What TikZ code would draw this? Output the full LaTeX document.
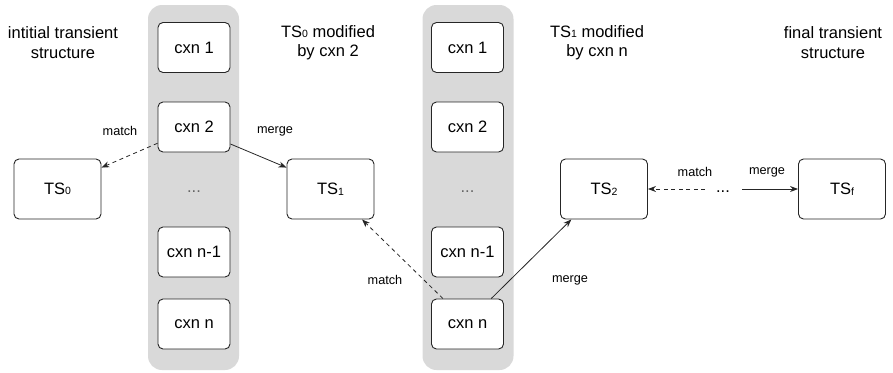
\documentclass[tikz,border=0pt]{standalone}
\usepackage{fontspec}
\setmainfont{Liberation Sans}
\usetikzlibrary{arrows.meta}
\begin{document}
\begin{tikzpicture}[x=1pt,y=-1pt,
  colbg/.style={fill=black!15, draw=none, rounded corners=14pt, minimum width=91pt, minimum height=365pt, inner sep=0},
  cxnbox/.style={draw=black!85, fill=white, rounded corners=5pt, line width=0.9pt, minimum width=72pt, minimum height=50pt, inner sep=0, font=\fontsize{16.5}{19}\selectfont},
  tsbox/.style={draw=black!85, fill=white, rounded corners=5pt, line width=0.9pt, minimum width=87pt, minimum height=60pt, inner sep=0, font=\fontsize{16.5}{19}\selectfont},
  title/.style={align=center, font=\fontsize{16.5}{19.5}\selectfont, inner sep=0},
  lbl/.style={font=\fontsize{12.7}{14}\selectfont, inner sep=0},
  dotsnode/.style={font=\fontsize{16.5}{19}\selectfont, inner sep=0},
  conn/.style={line width=0.8pt, draw=black!85, -{Stealth[length=8pt,width=6pt]}},
  dconn/.style={conn, dash pattern=on 4pt off 3.5pt},
]
\useasboundingbox (0,0) rectangle (893,372);
\newcommand{\subd}[1]{\raisebox{-0.5pt}{\fontsize{10.5}{10.5}\selectfont #1}}
% columns
\node[colbg] (col1) at (193.5,187.5) {};
\node[colbg] (col2) at (468,187.5) {};
% column 1
\node[cxnbox] (a1) at (194,47.5) {cxn 1};
\node[cxnbox] (a2) at (194,127) {cxn 2};
\node[dotsnode, text=black!60] (ad) at (194,192) {...};
\node[cxnbox] (a3) at (194,252) {cxn n-1};
\node[cxnbox] (a4) at (194,324) {cxn n};
% column 2
\node[cxnbox] (b1) at (467.5,47.5) {cxn 1};
\node[cxnbox] (b2) at (467.5,127) {cxn 2};
\node[dotsnode, text=black!60] (bd) at (467.5,192) {...};
\node[cxnbox] (b3) at (467.5,252) {cxn n-1};
\node[cxnbox] (b4) at (467.5,324) {cxn n};
% transient structures
\node[tsbox] (ts0) at (57.5,189) {TS\subd{0}};
\node[tsbox] (ts1) at (330.5,189) {TS\subd{1}};
\node[tsbox] (ts2) at (604,189) {TS\subd{2}};
\node[tsbox] (tsf) at (842,189) {TS\subd{f}};
\node[dotsnode] (md) at (723,192) {...};
% titles
\node[title] (t0) at (63,42.5) {intitial transient\\structure};
\node[title] (t1) at (328,42.5) {TS\subd{0} modified\\by cxn 2};
\node[title] (t2) at (597,42.5) {TS\subd{1} modified\\by cxn n};
\node[title] (t3) at (833,42.5) {final transient\\structure};
% connectors
\draw[dconn] (a2.204) -- (ts0.26);
\draw[conn] (a2.335) -- (ts1.154);
\draw[dconn] (b4.134) -- (ts1.316);
\draw[conn] (b4.47) -- (ts2.223);
\coordinate (mdl) at (705,189);
\coordinate (mdr) at (742,189);
\draw[dconn] (mdl) -- (ts2.east);
\draw[conn] (mdr) -- (tsf.west);
% labels
\node[lbl] (l1) at (120,131) {match};
\node[lbl] (l2) at (275,131) {merge};
\node[lbl] (l3) at (385,280) {match};
\node[lbl] (l4) at (570,280) {merge};
\node[lbl] (l5) at (695,172) {match};
\node[lbl] (l6) at (767,172) {merge};
\end{tikzpicture}
\end{document}
